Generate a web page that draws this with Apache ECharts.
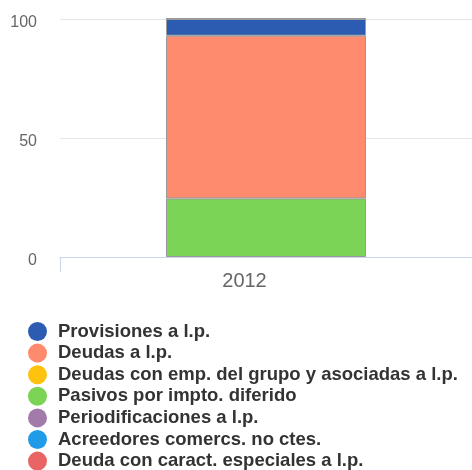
<!DOCTYPE html>
<html>
<head>
<meta charset="utf-8">
<script src="https://cdn.jsdelivr.net/npm/echarts@6/dist/echarts.min.js"></script>
<style>html,body{margin:0;padding:0;background:#fff}#c{width:472px;height:470px}</style>
</head>
<body>
<div id="c"></div>
<script>
const categories = ['2012'];
const yTicks = [0, 50, 100];
// legend display order
const legendNames = [
  'Provisiones a l.p.',
  'Deudas a l.p.',
  'Deudas con emp. del grupo y asociadas a l.p.',
  'Pasivos por impto. diferido',
  'Periodificaciones a l.p.',
  'Acreedores comercs. no ctes.',
  'Deuda con caract. especiales a l.p.'
];
const legendColors = ['#2b5cb1', '#ff8b6f', '#ffc20e', '#7cd456', '#a37bab', '#209be8', '#e96464'];
// values (%) per series, same order as legendNames
const provisiones = [7.0];
const deudasLp = [68.4];
const deudasGrupo = [0];
const pasivosImpto = [24.6];
const periodificaciones = [0];
const acreedores = [0];
const deudaEspeciales = [0];
const seriesValues = [provisiones, deudasLp, deudasGrupo, pasivosImpto, periodificaciones, acreedores, deudaEspeciales];
// stacking order bottom -> top (indexes into legendNames)
const stackOrder = [3, 1, 0, 2, 4, 5, 6];

const chart = echarts.init(document.getElementById('c'));
const series = stackOrder.map(i => ({
  name: legendNames[i],
  type: 'bar',
  stack: 'total',
  data: seriesValues[i],
  barWidth: 200,
  itemStyle: { color: legendColors[i], borderColor: '#999999', borderWidth: 1 },
  emphasis: { disabled: true }
}));
chart.setOption({
  animation: false,
  color: legendColors,
  grid: { left: 60, right: 0, top: 19, bottom: 213, containLabel: false },
  xAxis: {
    type: 'category',
    data: categories,
    axisLine: { lineStyle: { color: '#ccd6eb', width: 1 } },
    axisTick: { show: true, length: 15, lineStyle: { color: '#ccd6eb' } },
    axisLabel: { color: '#666666', fontSize: 20, fontFamily: 'Liberation Sans, Arial, sans-serif', margin: 14, padding: [0, 43, 0, 0] }
  },
  yAxis: {
    type: 'value',
    min: yTicks[0],
    max: yTicks[yTicks.length - 1],
    interval: 50,
    axisLine: { show: false },
    axisTick: { show: false },
    splitLine: { lineStyle: { color: '#e6e6e6', width: 1 } },
    axisLabel: {
      color: '#666666', fontSize: 16, fontFamily: 'Liberation Sans, Arial, sans-serif', margin: 23,
      formatter: '{v|{value}}',
      rich: { v: { color: '#666666', fontSize: 16, fontFamily: 'Liberation Sans, Arial, sans-serif', padding: [7, 0, 0, 0] } }
    }
  },
  legend: {
    orient: 'vertical',
    left: 28,
    top: 322,
    height: 200,
    padding: 0,
    icon: 'circle',
    itemWidth: 19,
    itemHeight: 19,
    itemGap: 2.6,
    data: legendNames,
    itemStyle: { borderWidth: 0 },
    textStyle: { fontSize: 18.5, lineHeight: 18, fontWeight: 'bold', color: '#333333', fontFamily: 'Liberation Sans, Arial, sans-serif', padding: [0, 0, 0, 6] },
    selectedMode: false
  },
  series: series
});
</script>
</body>
</html>
